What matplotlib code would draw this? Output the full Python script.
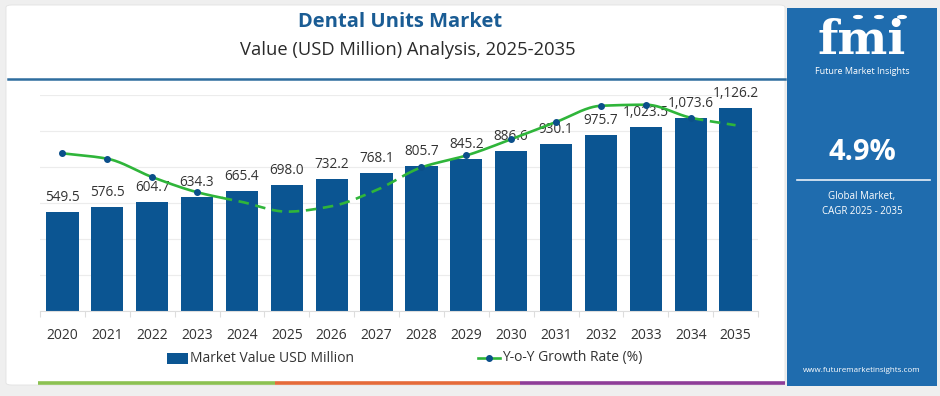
import numpy as np
import matplotlib
matplotlib.use("Agg")
import matplotlib.pyplot as plt
from matplotlib.patches import Rectangle, FancyBboxPatch, Circle
from matplotlib.lines import Line2D

# ---------------- data ----------------
years = ["2020", "2021", "2022", "2023", "2024", "2025", "2026", "2027",
         "2028", "2029", "2030", "2031", "2032", "2033", "2034", "2035"]
market_value = [549.5, 576.5, 604.7, 634.3, 665.4, 698.0, 732.2, 768.1,
                805.7, 845.2, 886.6, 930.1, 975.7, 1023.5, 1073.6, 1126.2]
yoy_growth = [4.946, 4.941, 4.924, 4.910, 4.901, 4.892, 4.897, 4.912,
              4.933, 4.944, 4.959, 4.975, 4.990, 4.991, 4.979, 4.972]
value_labels = ["549.5", "576.5", "604.7", "634.3", "665.4", "698.0", "732.2", "768.1",
                "805.7", "845.2", "886.6", "930.1", "975.7", "1,023.5", "1,073.6", "1,126.2"]
title = "Dental Units Market"
subtitle = "Value (USD Million) Analysis, 2025-2035"
legend_labels = ["Market Value USD Million", "Y-o-Y Growth Rate (%)"]
cagr_text = "4.9%"

# ---------------- style ----------------
FONT = ["Open Sans", "DejaVu Sans"]
plt.rcParams["font.family"] = FONT
BAR = "#0b5592"
GREEN = "#2fb53a"
NAVY = "#0b4f8a"
TXT = "#333333"
PANEL = "#1f6cae"

W, H = 940, 396
fig = plt.figure(figsize=(W / 100, H / 100), dpi=100, facecolor="#efefef")


def fx(px):
    return px / W


def fy(py):
    return 1 - py / H


# white card
fig.patches.append(FancyBboxPatch((fx(6), fy(385)), fx(779), (385 - 5) / H,
                                  boxstyle="round,pad=0,rounding_size=0.006",
                                  transform=fig.transFigure, facecolor="white",
                                  edgecolor="#e2e2e2", lw=0.6, zorder=-2))
# right panel
fig.patches.append(Rectangle((fx(787), fy(386)), fx(150), (386 - 8) / H,
                             transform=fig.transFigure, facecolor=PANEL,
                             edgecolor="none", zorder=-2))

# titles
fig.text(fx(400), fy(22), title, ha="center", va="center", fontsize=14.5,
         fontweight="bold", color="#1a5c94")
fig.text(fx(408), fy(50), subtitle, ha="center", va="center", fontsize=13.2,
         color="#2a2a2a")
fig.add_artist(Line2D([fx(8), fx(785)], [fy(79), fy(79)], color="#2f6d9e",
                      lw=1.8, transform=fig.transFigure))

# ---------------- main axes ----------------
ax = fig.add_axes([fx(40), fy(311), fx(758 - 40), (311 - 95) / H])
ax.set_facecolor("none")
x = np.arange(len(years))
ax.bar(x, market_value, width=0.72, color=BAR, zorder=2)
ax.set_xlim(-0.5, len(years) - 0.5)
ax.set_ylim(0, 1200)
ax.set_yticks(np.arange(0, 1201, 200))
ax.yaxis.grid(True, color="#ececec", lw=0.8, zorder=0)
ax.set_axisbelow(True)

for xi, v, lab in zip(x, market_value, value_labels):
    ax.annotate(lab, (xi, v), xytext=(0, 5), textcoords="offset points",
                ha="center", va="bottom", fontsize=9.8, color=TXT, zorder=3)

# ---------------- growth line ----------------
ax2 = ax.twinx()
ax2.set_ylim(4.8, 5.0)
ax2.axis("off")
ax2.set_xlim(ax.get_xlim())

# axis cosmetics after twinx (twinx re-enables left ticks)
ax.tick_params(axis="y", which="both", left=False, right=False,
               labelleft=False, labelright=False)
ax.set_xticks(x)
ax.set_xticklabels(years, fontsize=10, color=TXT)
ax.tick_params(axis="x", length=0, pad=12)
ax.set_xticks(np.arange(-0.5, len(years), 1.0), minor=True)
ax.tick_params(axis="x", which="minor", length=4, color="#dddddd", width=0.8)
for s in ["top", "right", "left"]:
    ax.spines[s].set_visible(False)
ax.spines["bottom"].set_color("#dddddd")

xs = np.array(x, dtype=float)
ys = np.array(yoy_growth)


def monotone_curve(xs, ys, n=40):
    """Fritsch-Carlson monotone cubic drawing of the given points."""
    h = np.diff(xs)
    d = np.diff(ys) / h
    m = np.zeros_like(ys)
    m[0], m[-1] = d[0], d[-1]
    for i in range(1, len(xs) - 1):
        if d[i - 1] * d[i] <= 0:
            m[i] = 0.0
        else:
            w1 = 2 * h[i] + h[i - 1]
            w2 = h[i] + 2 * h[i - 1]
            m[i] = (w1 + w2) / (w1 / d[i - 1] + w2 / d[i])
    ox, oy = [], []
    for i in range(len(xs) - 1):
        t = np.linspace(0, 1, n, endpoint=False)
        h00 = 2 * t ** 3 - 3 * t ** 2 + 1
        h10 = t ** 3 - 2 * t ** 2 + t
        h01 = -2 * t ** 3 + 3 * t ** 2
        h11 = t ** 3 - t ** 2
        ox.extend(xs[i] + t * h[i])
        oy.extend(h00 * ys[i] + h10 * h[i] * m[i] + h01 * ys[i + 1]
                  + h11 * h[i] * m[i + 1])
    ox.append(xs[-1])
    oy.append(ys[-1])
    return np.array(ox), np.array(oy)


sx, sy = monotone_curve(xs, ys)
solid1 = sx <= 3.55
dash1 = (sx >= 3.55) & (sx <= 7.7)
solid2 = (sx >= 7.7) & (sx <= 14.05)
dash2 = sx >= 14.05
for m in (solid1, solid2):
    ax2.plot(sx[m], sy[m], color=GREEN, lw=1.9, zorder=4, solid_capstyle="round")
for m in (dash1, dash2):
    ax2.plot(sx[m], sy[m], color=GREEN, lw=1.9, zorder=4, dashes=(4, 2.5))
mk = [i for i in range(len(years)) if i not in (4, 5, 6, 7, 15)]
ax2.plot(xs[mk], ys[mk], "o", color=NAVY, ms=4, zorder=5)

# ---------------- legend ----------------
fig.patches.append(Rectangle((fx(167), fy(364)), fx(21), 11 / H,
                             transform=fig.transFigure, facecolor=BAR,
                             edgecolor="none"))
fig.text(fx(190), fy(358), legend_labels[0], ha="left", va="center",
         fontsize=10, color=TXT)
fig.add_artist(Line2D([fx(478), fx(500)], [fy(358), fy(358)], color=GREEN,
                      lw=1.9, transform=fig.transFigure))
fig.add_artist(Line2D([fx(489)], [fy(358)], marker="o", color=NAVY, ms=4,
                      transform=fig.transFigure))
fig.text(fx(502), fy(358), legend_labels[1], ha="left", va="center",
         fontsize=10, color=TXT)

# bottom colour bar
for x0, x1, c in ((38, 275, "#8cc152"), (275, 520, "#e56b3a"), (520, 785, "#8e3d98")):
    fig.add_artist(Line2D([fx(x0), fx(x1)], [fy(383), fy(383)], color=c, lw=2.6,
                          transform=fig.transFigure, solid_capstyle="butt"))

# ---------------- right panel content ----------------
fig.text(fx(862), fy(54), "fmi", ha="center", va="baseline", fontsize=34,
         fontweight="bold", family=["DejaVu Serif"], color="white")
for yy in range(24, 56, 4):
    fig.add_artist(Line2D([fx(805), fx(922)], [fy(yy), fy(yy)], color=PANEL,
                          lw=0.7, transform=fig.transFigure))
for cx in (858, 879, 902):
    fig.patches.append(Circle((fx(cx), fy(17)), 5 / W, transform=fig.transFigure,
                              facecolor="white", edgecolor="none"))
fig.text(fx(862), fy(72), "Future Market Insights", ha="center", va="center",
         fontsize=6.5, color="white")
fig.text(fx(862), fy(152), cagr_text, ha="center", va="center", fontsize=21,
         fontweight="bold", color="white")
fig.add_artist(Line2D([fx(797), fx(930)], [fy(180), fy(180)], color="#e8f0f8",
                      lw=1.2, transform=fig.transFigure))
fig.text(fx(862), fy(196), "Global Market,", ha="center", va="center",
         fontsize=7, color="white")
fig.text(fx(862), fy(211), "CAGR 2025 - 2035", ha="center", va="center",
         fontsize=7, color="white")
fig.text(fx(862), fy(371), "www.futuremarketinsights.com", ha="center",
         va="center", fontsize=5.8, color="white")

fig.savefig("out.png", dpi=100, facecolor=fig.get_facecolor())
